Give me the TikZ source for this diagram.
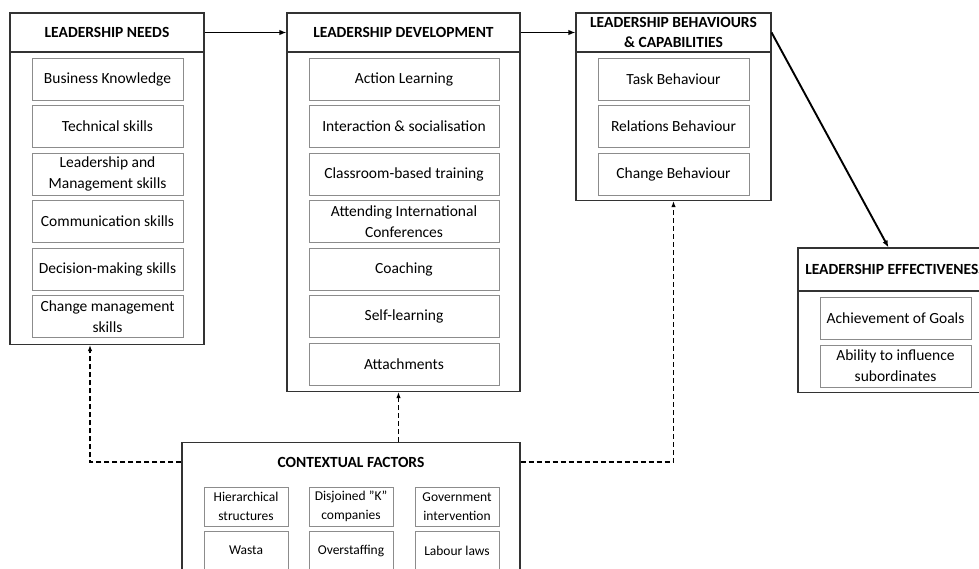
\documentclass[tikz,border=0pt]{standalone}
\usepackage{fontspec}
\setmainfont{Carlito}
\usetikzlibrary{arrows.meta}
\usetikzlibrary{positioning}

\begin{document}
\begin{tikzpicture}[x=1pt,y=-1pt]
  \tikzset{frame/.style = {shape=rectangle,draw=black!80,line width=1.1pt,inner sep=0pt}}
  \tikzset{head/.style = {frame,align=center,minimum height=39,font=\fontsize{15.5}{20}\selectfont\bfseries}}
  \tikzset{item/.style = {shape=rectangle,draw=black!45,line width=0.9pt,inner sep=0pt,minimum height=42,align=center,font=\fontsize{15.5}{21}\selectfont}}
  \tikzset{factor/.style = {item,minimum width=84,minimum height=39,font=\fontsize{13.5}{19}\selectfont}}
  \tikzset{edge/.style = {-{Latex[length=7pt,width=5.5pt]},line width=1.4pt}}
  \tikzset{link/.style = {-{Latex[length=6pt,width=4.5pt]},line width=1.5pt,dash pattern=on 5pt off 3pt}}

  \clip (0,0) rectangle (979,569);

  % leadership needs
  \node[head, minimum width=194] (needsh) at (107,32.5) {LEADERSHIP NEEDS};
  \node[frame, minimum width=194, minimum height=292, anchor=north] (needsb) at (107,52) {};
  \node[item, minimum width=151] (knowledge) at (107.5,79)    {Business Knowledge};
  \node[item, minimum width=151] (technical) at (107.5,126.5) {Technical skills};
  \node[item, minimum width=151] (management) at (107.5,174)  {Leadership and\\Management skills};
  \node[item, minimum width=151] (communication) at (107.5,221.5) {Communication skills};
  \node[item, minimum width=151] (decision) at (107.5,269)    {Decision-making skills};
  \node[item, minimum width=151] (change) at (107.5,316.5)    {Change management\\skills};

  % leadership development
  \node[head, minimum width=233] (devh) at (403.5,32.5) {LEADERSHIP DEVELOPMENT};
  \node[frame, minimum width=233, minimum height=339, anchor=north] (devb) at (403.5,52) {};
  \node[item, minimum width=190] (action) at (404,79)        {Action Learning};
  \node[item, minimum width=190] (interaction) at (404,126.5) {Interaction \& socialisation};
  \node[item, minimum width=190] (classroom) at (404,174)    {Classroom-based training};
  \node[item, minimum width=190] (conferences) at (404,221.5) {Attending International\\Conferences};
  \node[item, minimum width=190] (coaching) at (404,269)     {Coaching};
  \node[item, minimum width=190] (selflearn) at (404,316.5)  {Self-learning};
  \node[item, minimum width=190] (attach) at (404,364)       {Attachments};

  % behaviours
  \node[head, minimum width=195] (behavh) at (673.5,32.5) {LEADERSHIP BEHAVIOURS\\\& CAPABILITIES};
  \node[frame, minimum width=195, minimum height=148, anchor=north] (behavb) at (673.5,52) {};
  \node[item, minimum width=151] (task) at (673.5,79)        {Task Behaviour};
  \node[item, minimum width=151] (relations) at (673.5,126.5) {Relations Behaviour};
  \node[item, minimum width=151] (changeb) at (673.5,174)    {Change Behaviour};

  % effectiveness (runs past the right edge)
  \node[head, minimum width=195, minimum height=43] (effh) at (895.5,269.5) {LEADERSHIP EFFECTIVENESS};
  \node[frame, minimum width=195, minimum height=101, anchor=north] (effb) at (895.5,291) {};
  \node[item, minimum width=151] (goals) at (895.5,318)     {Achievement of Goals};
  \node[item, minimum width=151] (influence) at (895.5,366) {Ability to influence\\subordinates};

  % contextual factors
  \node[frame, minimum width=338, minimum height=136, anchor=north] (ctx) at (351,442) {};
  \node[font=\fontsize{15.5}{20}\selectfont\bfseries] (ctxt) at (351,462) {CONTEXTUAL FACTORS};
  \node[factor] (hierarchy) at (246,506.5)  {Hierarchical\\structures};
  \node[factor] (disjoined) at (351,506.5)  {Disjoined "K"\\companies};
  \node[factor] (government) at (457,506.5) {Government\\intervention};
  \node[factor] (wasta) at (246,550.5)      {Wasta};
  \node[factor] (overstaff) at (351,550.5)  {Overstaffing};
  \node[factor] (labour) at (457,550.5)     {Labour laws};

  \draw[edge] (needsh) to (devh);
  \draw[edge, line width=1.9pt] (devh) to (behavh);
  \draw[edge, line width=1.9pt] (behavh.east) to ([xshift=-7pt]effh.north);

  \draw[link] (ctx.west |- ctxt) -| ([xshift=-17pt]needsb.south);
  \draw[link] ([xshift=-5pt]devb.south |- ctx.north) to ([xshift=-5pt]devb.south);
  \draw[link] (ctx.east |- ctxt) -| (behavb.south);
\end{tikzpicture}
\end{document}
